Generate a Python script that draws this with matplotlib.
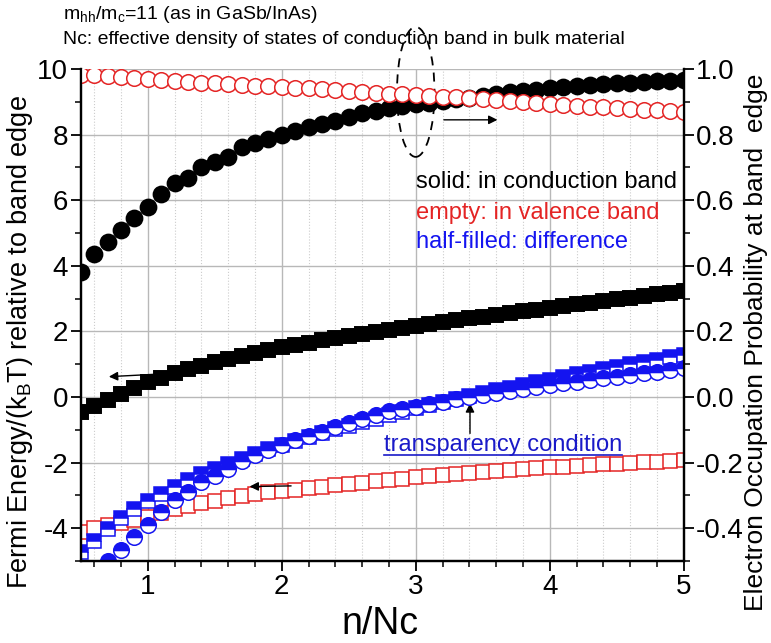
import matplotlib
matplotlib.use('Agg')
import matplotlib.pyplot as plt
from matplotlib.patches import Ellipse
from matplotlib.lines import Line2D
from matplotlib.ticker import MultipleLocator, FormatStrFormatter

plt.rcParams['font.family'] = 'Liberation Sans'
plt.rcParams['mathtext.fontset'] = 'custom'
plt.rcParams['mathtext.rm'] = 'Liberation Sans'
plt.rcParams['axes.unicode_minus'] = False

# carrier density n/Nc
n_nc = [0.5, 0.6, 0.7, 0.8, 0.9, 1.0, 1.1, 1.2, 1.3, 1.4, 1.5, 1.6, 1.7, 1.8, 1.9,
        2.0, 2.1, 2.2, 2.3, 2.4, 2.5, 2.6, 2.7, 2.8, 2.9, 3.0, 3.1, 3.2, 3.3, 3.4,
        3.5, 3.6, 3.7, 3.8, 3.9, 4.0, 4.1, 4.2, 4.3, 4.4, 4.5, 4.6, 4.7, 4.8, 4.9, 5.0]

# quasi Fermi levels / kT (left axis)
ef_cond = [-0.47, -0.28, -0.08, 0.10, 0.28, 0.45, 0.59, 0.72, 0.84, 0.95, 1.06, 1.17, 1.26, 1.35, 1.44,
           1.52, 1.59, 1.66, 1.73, 1.79, 1.85, 1.91, 1.97, 2.03, 2.10, 2.16, 2.22, 2.28, 2.34, 2.40,
           2.45, 2.51, 2.56, 2.61, 2.66, 2.72, 2.77, 2.83, 2.88, 2.93, 2.98, 3.03, 3.08, 3.13, 3.18, 3.23]
ef_val = [-4.11, -4.00, -3.90, -3.83, -3.75, -3.65, -3.53, -3.42, -3.32, -3.24, -3.16, -3.08, -3.02, -2.96, -2.91,
          -2.86, -2.82, -2.77, -2.73, -2.69, -2.65, -2.61, -2.57, -2.53, -2.49, -2.45, -2.42, -2.39, -2.36, -2.33,
          -2.29, -2.26, -2.23, -2.20, -2.17, -2.14, -2.12, -2.10, -2.07, -2.05, -2.03, -2.01, -1.99, -1.97, -1.95, -1.93]
ef_sum = [-4.72, -4.38, -4.02, -3.70, -3.42, -3.18, -2.95, -2.74, -2.54, -2.36, -2.19, -2.03, -1.88, -1.74, -1.60,
          -1.47, -1.35, -1.23, -1.11, -0.99, -0.88, -0.77, -0.66, -0.55, -0.45, -0.35, -0.25, -0.16, -0.07, 0.02,
          0.11, 0.20, 0.28, 0.37, 0.45, 0.53, 0.61, 0.69, 0.77, 0.85, 0.92, 1.00, 1.07, 1.14, 1.21, 1.28]

# occupation probability at band edge (right axis)
f_cond = [0.380, 0.435, 0.473, 0.509, 0.545, 0.580, 0.619, 0.652, 0.669, 0.700, 0.717, 0.733, 0.763, 0.773, 0.787,
          0.799, 0.811, 0.822, 0.832, 0.842, 0.855, 0.865, 0.873, 0.880, 0.886, 0.892, 0.897, 0.902, 0.907, 0.913,
          0.919, 0.924, 0.929, 0.933, 0.937, 0.941, 0.944, 0.947, 0.950, 0.953, 0.956, 0.958, 0.960, 0.962, 0.964, 0.966]
f_val = [0.982, 0.982, 0.980, 0.977, 0.973, 0.970, 0.967, 0.963, 0.960, 0.958, 0.956, 0.953, 0.951, 0.949, 0.947,
         0.945, 0.943, 0.941, 0.938, 0.935, 0.933, 0.930, 0.928, 0.925, 0.923, 0.921, 0.919, 0.916, 0.914, 0.911,
         0.908, 0.905, 0.902, 0.898, 0.895, 0.892, 0.890, 0.888, 0.885, 0.883, 0.880, 0.878, 0.876, 0.874, 0.872, 0.870]
f_diff = [-0.600, -0.545, -0.500, -0.466, -0.426, -0.390, -0.350, -0.314, -0.289, -0.258, -0.240, -0.220, -0.194, -0.177, -0.162,
          -0.147, -0.132, -0.119, -0.106, -0.092, -0.080, -0.068, -0.055, -0.044, -0.036, -0.029, -0.021, -0.014, -0.007, 0.001,
          0.007, 0.013, 0.019, 0.025, 0.031, 0.037, 0.042, 0.047, 0.052, 0.057, 0.062, 0.067, 0.072, 0.077, 0.082, 0.087]

RED = '#e42424'
BLUE = '#1414f0'
ms_sq = 10.5
ms_ci = 11.2

fig = plt.figure(figsize=(7.71, 6.43), dpi=100)
ax = fig.add_subplot(1, 1, 1)
fig.subplots_adjust(left=0.1047, right=0.8868, top=0.8927, bottom=0.1275)
ax2 = ax.twinx()

# Fermi levels as squares
ax.plot(n_nc, ef_cond, 's', ms=ms_sq, mfc='k', mec='k', mew=1.4, ls='none')
ax.plot(n_nc, ef_val, 's', ms=ms_sq, mfc='white', mec=RED, mew=1.1, ls='none')
ax.plot(n_nc, ef_sum, 's', ms=ms_sq, fillstyle='top', mfc=BLUE, mfcalt='white', mec=BLUE, mew=1.1, ls='none')

# occupation probabilities as circles
ax2.plot(n_nc, f_cond, 'o', ms=ms_ci, mfc='k', mec='k', mew=1.6, ls='none')
ax2.plot(n_nc, f_val, 'o', ms=ms_ci, mfc='white', mec=RED, mew=1.1, ls='none')
ax2.plot(n_nc, f_diff, 'o', ms=ms_ci, fillstyle='top', mfc=BLUE, mfcalt='white', mec=BLUE, mew=1.1, ls='none')

ax.set_xlim(0.5, 5)
ax.set_ylim(-5, 10)
ax2.set_ylim(-0.5, 1.0)

ax.xaxis.set_major_locator(MultipleLocator(1))
ax.xaxis.set_minor_locator(MultipleLocator(0.2))
ax.yaxis.set_major_locator(MultipleLocator(2))
ax.yaxis.set_minor_locator(MultipleLocator(1))
ax2.yaxis.set_major_locator(MultipleLocator(0.2))
ax2.yaxis.set_minor_locator(MultipleLocator(0.1))
ax2.yaxis.set_major_formatter(FormatStrFormatter('%.1f'))

ax.grid(which='major', color='#b8b8b8', lw=1)
ax.grid(which='minor', axis='x', color='#cccccc', lw=0.8, ls=':')
ax.set_axisbelow(True)

for a in (ax, ax2):
    a.spines['top'].set_visible(False)
    for s in a.spines.values():
        s.set_linewidth(1.6)
ax.tick_params(which='major', length=7, width=1.3, labelsize=20, direction='out', pad=2)
ax.tick_params(which='minor', length=4, width=1.1, direction='out')
ax2.tick_params(which='major', length=7, width=1.3, labelsize=20, direction='out', pad=2)
ax2.tick_params(which='minor', length=4, width=1.1, direction='out')

ax.set_xlabel('n/Nc', fontsize=27)
ax.xaxis.set_label_coords(0.496, -0.092)
ax.set_ylabel(r'Fermi Energy/(k$_{\rm B}$T) relative to band edge', fontsize=19.5)
ax.yaxis.set_label_coords(-0.076, 0.445)
ax2.set_ylabel('Electron Occupation Probability at band  edge', fontsize=19, rotation=90)
ax2.yaxis.set_label_coords(1.100, 0.445)

# annotations
ax.add_patch(Ellipse((3.0, 9.3), width=0.28, height=3.96, fill=False, ls=(0, (5, 4)),
                     lw=1.3, color='k', clip_on=False))
arrow = dict(arrowstyle='-|>', color='k', lw=1, mutation_scale=13, shrinkA=0, shrinkB=0)
ax.annotate('', xy=(3.61, 8.45), xytext=(3.21, 8.45), arrowprops=arrow)
ax.annotate('', xy=(0.71, 0.62), xytext=(1.04, 0.69), arrowprops=arrow)
ax.annotate('', xy=(1.76, -2.73), xytext=(2.07, -2.71), arrowprops=arrow)
ax.annotate('', xy=(3.405, -0.19), xytext=(3.405, -1.11), arrowprops=arrow)

ax.text(3.0, 6.55, 'solid: in conduction band', fontsize=17, color='k', va='center')
ax.text(3.0, 5.61, 'empty: in valence band', fontsize=17, color=RED, va='center')
ax.text(3.0, 4.72, 'half-filled: difference', fontsize=17, color=BLUE, va='center')
tc = ax.text(2.76, -1.46, 'transparency condition', fontsize=17, color='#1a1ac8', va='center')

fig.text(0.0817, 0.978, r'm$_{\rm hh}$/m$_{\rm c}$=11 (as in GaSb/InAs)', fontsize=14, va='center')
fig.text(0.0817, 0.938, 'Nc: effective density of states of conduction band in bulk material',
         fontsize=14, va='center')

# underline the transparency label
fig.canvas.draw()
bb = tc.get_window_extent().transformed(fig.transFigure.inverted())
fig.add_artist(Line2D([bb.x0, bb.x1], [bb.y0 + 0.002, bb.y0 + 0.002], color='#1a1ac8', lw=1.2,
                      transform=fig.transFigure))

fig.savefig('out.png', dpi=100)
